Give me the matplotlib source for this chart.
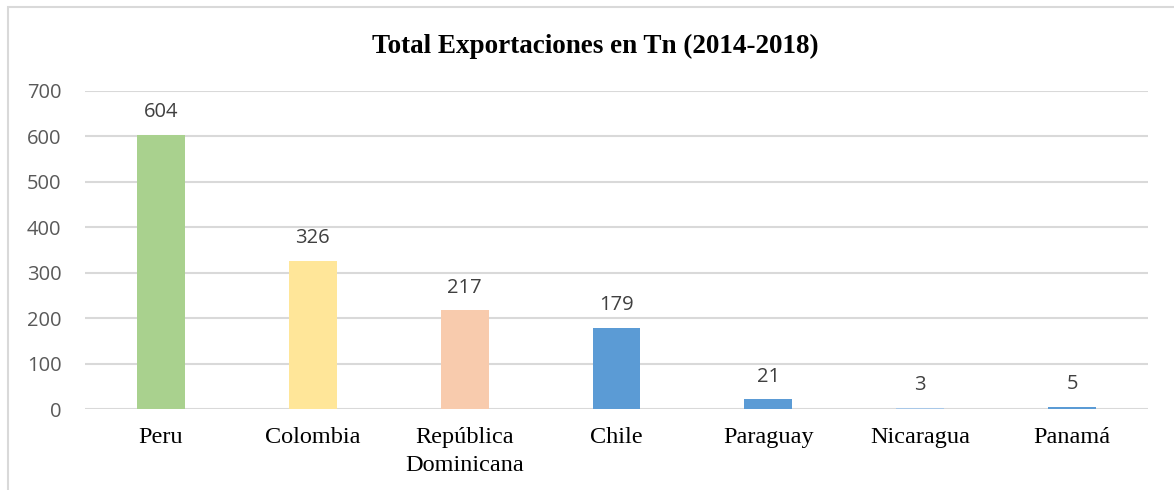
import matplotlib
matplotlib.use("Agg")
import matplotlib.pyplot as plt
from matplotlib.patches import Rectangle

categories = ["Peru", "Colombia", "República\nDominicana", "Chile", "Paraguay", "Nicaragua", "Panamá"]
values = [604, 326, 217, 179, 21, 3, 5]
colors = ["#a9d18e", "#ffe699", "#f8cbad", "#5b9bd5", "#5b9bd5", "#a9c8e8", "#5b9bd5"]
yticks = [0, 100, 200, 300, 400, 500, 600, 700]
title = "Total Exportaciones en Tn (2014-2018)"

W, H = 1174, 490
fig = plt.figure(figsize=(W / 100, H / 100), dpi=100)
fig.patch.set_facecolor("white")

# outer chart border (left and top visible)
fig.patches.append(Rectangle((8 / W, -0.1), 1.2, 1 - 7 / H + 0.1, transform=fig.transFigure,
                             fill=False, edgecolor="#d9d9d9", linewidth=1.5))

ax = fig.add_axes([85 / W, 1 - 409 / H, (1148 - 85) / W, (409 - 91) / H])
x = list(range(len(categories)))
ax.bar(x, values, width=0.316, color=colors, zorder=3)
ax.set_xlim(-0.5, len(categories) - 0.5)
ax.set_ylim(0, 700)
ax.set_yticks(yticks)
ax.set_yticklabels([str(t) for t in yticks], fontfamily="Open Sans", fontsize=14.5, color="#595959")
ax.set_xticks(x)
ax.set_xticklabels(categories, fontfamily="Liberation Serif", fontsize=17.5, color="black", linespacing=1.45)
ax.tick_params(axis="both", length=0)
ax.tick_params(axis="x", pad=13)
ax.tick_params(axis="y", pad=17)
ax.grid(axis="y", color="#d9d9d9", linewidth=1.5, zorder=0)
for s in ax.spines.values():
    s.set_visible(False)

for xi, v in zip(x, values):
    ax.annotate(str(v), (xi, v), xytext=(0, 9), textcoords="offset points",
                ha="center", va="bottom", fontfamily="Open Sans", fontsize=14.5, color="#404040")

fig.text(595 / W, 1 - 46 / H, title, ha="center", va="center",
         fontfamily="Liberation Serif", fontweight="bold", fontsize=19.5, color="black")

fig.savefig("out.png", dpi=100)
